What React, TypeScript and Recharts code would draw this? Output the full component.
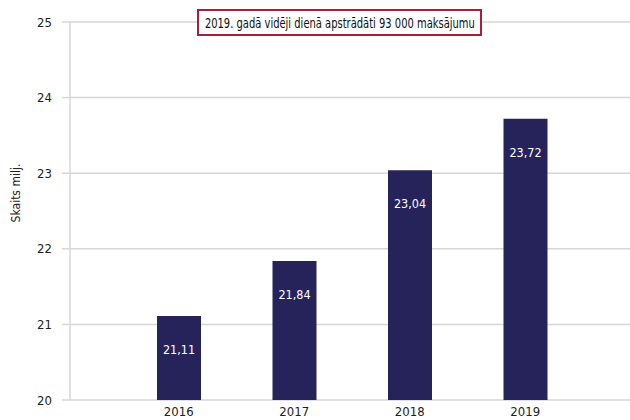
import React from 'react';
import { BarChart, Bar, XAxis, YAxis, CartesianGrid, LabelList } from 'recharts';

const years = ['2016', '2017', '2018', '2019'];
const counts = [21.11, 21.84, 23.04, 23.72];
const yTicks = [20, 21, 22, 23, 24, 25];

const data = years.map((year, i) => ({ year, count: counts[i] }));

const FONT = '"DejaVu Sans Condensed", "DejaVu Sans", sans-serif';
const NAVY = '#26235a';
const GRID = '#d6d6d6';
const textStyle = { fontFamily: FONT, fontStretch: 'condensed' as const };

const fmt = (v: number) => v.toFixed(2).replace('.', ',');

const YLabel = () => (
  <text
    x={20}
    y={193}
    transform="rotate(-90, 20, 193)"
    textAnchor="middle"
    style={textStyle}
    fontSize={12}
    fill="#222"
  >
    Skaits milj.
  </text>
);

const App: React.FC = () => {
  return (
    <div style={{ position: 'absolute', left: 0, top: 0, width: 630, height: 420, background: '#fff' }}>
      <BarChart
        width={630}
        height={420}
        data={data}
        margin={{ top: 22, right: 0, bottom: 0, left: 0 }}
      >
        <CartesianGrid vertical={false} stroke={GRID} strokeWidth={1.5} />
        <XAxis
          dataKey="year"
          height={20}
          axisLine={false}
          tickLine={false}
          tickSize={0}
          tickMargin={7}
          padding={{ left: 51, right: 47 }}
          tick={{ ...textStyle, fontSize: 13, fill: '#222' }}
        />
        <YAxis
          width={70}
          domain={[20, 25]}
          ticks={yTicks}
          interval={0}
          axisLine={{ stroke: GRID, strokeWidth: 1.5 }}
          tickLine={{ stroke: GRID, strokeWidth: 1.5 }}
          tickSize={8}
          tickMargin={10}
          tick={{ ...textStyle, fontSize: 13, fill: '#222' }}
          label={{ content: <YLabel /> }}
        />
        <Bar dataKey="count" fill={NAVY} barSize={44} isAnimationActive={false}>
          <LabelList
            dataKey="count"
            position="insideTop"
            offset={29}
            formatter={(v: any) => fmt(Number(v))}
            style={{ ...textStyle, fontSize: 12.5, fill: '#fff' }}
          />
        </Bar>
      </BarChart>
      <div
        style={{
          position: 'absolute',
          left: 197,
          top: 9,
          width: 285,
          height: 27,
          boxSizing: 'border-box',
          border: '2.5px solid #a3213a',
          background: '#fff',
          display: 'flex',
          alignItems: 'center',
          justifyContent: 'center',
          overflow: 'visible',
        }}
      >
        <span
          style={{
            ...textStyle,
            fontSize: 14,
            color: '#111',
            whiteSpace: 'nowrap',
            display: 'inline-block',
            transform: 'scaleX(0.79)',
          }}
        >
          2019. gadā vidēji dienā apstrādāti 93 000 maksājumu
        </span>
      </div>
    </div>
  );
};

export default App;
